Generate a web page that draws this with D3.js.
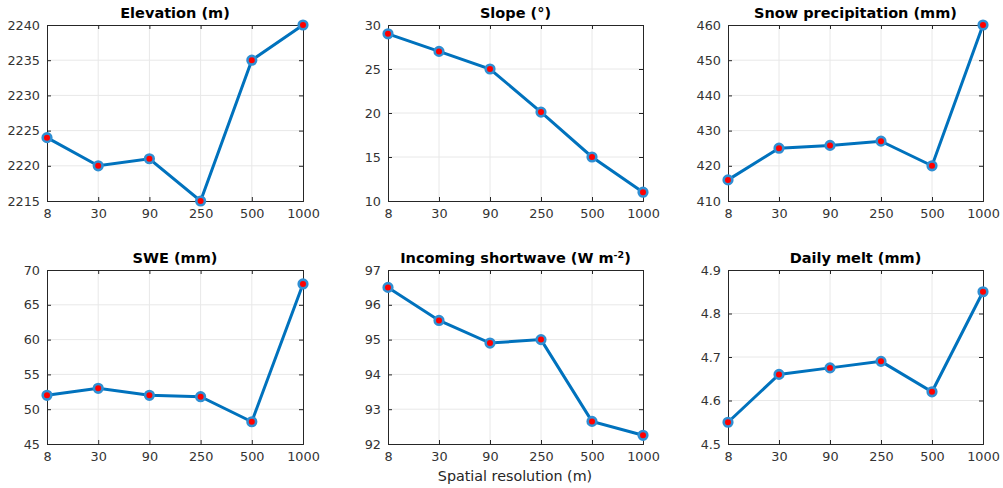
<!DOCTYPE html>
<html>
<head>
<meta charset="utf-8">
<script src="https://cdn.jsdelivr.net/npm/d3@7"></script>
<style>
  body { margin: 0; background: #fff; }
  text { font-family: "DejaVu Sans", sans-serif; }
</style>
</head>
<body>
<div id="viz"></div>
<script>
var resolutions = ['8', '30', '90', '250', '500', '1000'];

var elevation = [2224, 2220, 2221, 2215, 2235, 2240];
var slope = [29, 27, 25, 20.1, 15, 11];
var snowPrecip = [416, 425, 425.8, 427, 420, 460];
var swe = [52, 53, 52, 51.8, 48.2, 68];
var shortwave = [96.5, 95.55, 94.9, 95.0, 92.65, 92.25];
var dailyMelt = [4.55, 4.66, 4.675, 4.69, 4.62, 4.85];

var elevationTicks = [2215, 2220, 2225, 2230, 2235, 2240];
var slopeTicks = [10, 15, 20, 25, 30];
var snowTicks = [410, 420, 430, 440, 450, 460];
var sweTicks = [45, 50, 55, 60, 65, 70];
var shortwaveTicks = [92, 93, 94, 95, 96, 97];
var meltTicks = [4.5, 4.6, 4.7, 4.8, 4.9];

var width = 1003, height = 488;

var panels = [
  {title: 'Elevation (m)', values: elevation, ticks: elevationTicks, fmt: d3.format('d'), x: 47, y: 25, w: 256, h: 176},
  {title: 'Slope (°)', values: slope, ticks: slopeTicks, fmt: d3.format('d'), x: 388, y: 25, w: 255, h: 176},
  {title: 'Snow precipitation (mm)', values: snowPrecip, ticks: snowTicks, fmt: d3.format('d'), x: 728, y: 25, w: 255, h: 176},
  {title: 'SWE (mm)', values: swe, ticks: sweTicks, fmt: d3.format('d'), x: 47, y: 270, w: 256, h: 174},
  {title: 'Incoming shortwave', sup: true, values: shortwave, ticks: shortwaveTicks, fmt: d3.format('d'), x: 388, y: 270, w: 255, h: 174},
  {title: 'Daily melt (mm)', values: dailyMelt, ticks: meltTicks, fmt: d3.format('.1f'), x: 728, y: 270, w: 255, h: 174}
];

var svg = d3.select('#viz').append('svg')
  .attr('width', width)
  .attr('height', height)
  .style('background', '#fff');

panels.forEach(function(p) {
  var g = svg.append('g').attr('transform', `translate(${p.x},${p.y})`);

  var x = d3.scalePoint().domain(resolutions).range([0, p.w]);
  var y = d3.scaleLinear()
    .domain([p.ticks[0], p.ticks[p.ticks.length - 1]])
    .range([p.h, 0]);

  // grid
  g.append('g').selectAll('line').data(resolutions.slice(1, -1))
    .enter().append('line')
    .attr('x1', d => x(d)).attr('x2', d => x(d))
    .attr('y1', 0).attr('y2', p.h)
    .attr('stroke', '#e8e8e8').attr('stroke-width', 1);
  g.append('g').selectAll('line').data(p.ticks.slice(1, -1))
    .enter().append('line')
    .attr('y1', d => y(d)).attr('y2', d => y(d))
    .attr('x1', 0).attr('x2', p.w)
    .attr('stroke', '#e8e8e8').attr('stroke-width', 1);

  // axes
  var xAxis = g.append('g')
    .attr('transform', `translate(0,${p.h})`)
    .call(d3.axisBottom(x).tickSize(-4).tickPadding(8));
  var xTop = g.append('g')
    .call(d3.axisTop(x).tickSize(-4).tickFormat(''));
  var yAxis = g.append('g')
    .call(d3.axisLeft(y).tickValues(p.ticks).tickFormat(p.fmt).tickSize(-4).tickPadding(7));
  var yRight = g.append('g')
    .attr('transform', `translate(${p.w},0)`)
    .call(d3.axisRight(y).tickValues(p.ticks).tickFormat('').tickSize(-4));

  [xAxis, xTop, yAxis, yRight].forEach(function(a) {
    a.select('.domain').attr('stroke', '#262626').attr('stroke-width', 1);
    a.selectAll('.tick line').attr('stroke', '#262626');
    a.selectAll('.tick text')
      .attr('fill', '#333')
      .style('font-size', '12.8px')
      .style('font-family', '"DejaVu Sans", sans-serif');
  });

  // line
  var line = d3.line()
    .x((d, i) => x(resolutions[i]))
    .y(d => y(d));
  g.append('path')
    .datum(p.values)
    .attr('fill', 'none')
    .attr('stroke', '#0072BD')
    .attr('stroke-width', 3)
    .attr('d', line);

  g.append('g').selectAll('circle').data(p.values)
    .enter().append('circle')
    .attr('cx', (d, i) => x(resolutions[i]))
    .attr('cy', d => y(d))
    .attr('r', 4.3)
    .attr('fill', '#ff0000')
    .attr('stroke', '#2f8fd3')
    .attr('stroke-width', 2.6);

  // title
  var t = g.append('text')
    .attr('x', p.w / 2)
    .attr('y', -7)
    .attr('text-anchor', 'middle')
    .attr('fill', '#000')
    .style('font-size', '14.5px')
    .style('font-weight', 'bold')
    .text(p.title);
  if (p.sup) {
    t.append('tspan').text(' (W m');
    t.append('tspan').attr('dy', -5).style('font-size', '9.5px').text('-2');
    t.append('tspan').attr('dy', 5).text(')');
  }
});

svg.append('text')
  .attr('x', 515)
  .attr('y', 481)
  .attr('text-anchor', 'middle')
  .attr('fill', '#262626')
  .style('font-size', '14.3px')
  .text('Spatial resolution (m)');
</script>
</body>
</html>
